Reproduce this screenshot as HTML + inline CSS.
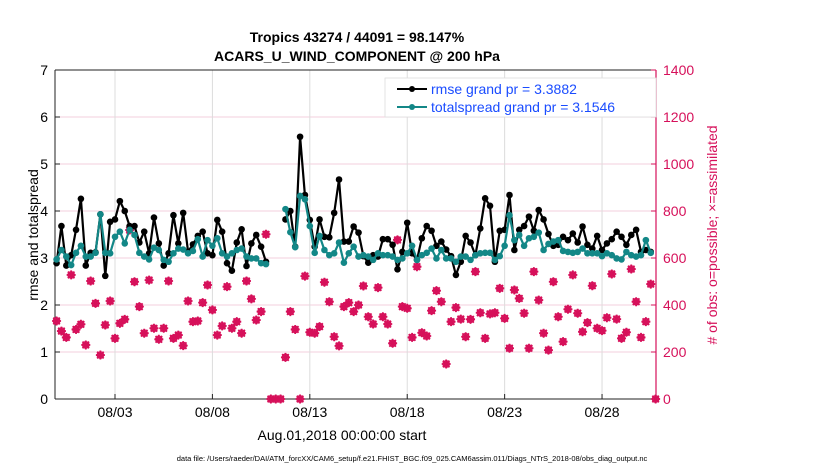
<!DOCTYPE html>
<html><head><meta charset="utf-8"><style>
body{margin:0;background:#fff;}
svg{display:block;font-family:"Liberation Sans",sans-serif;}
</style></head><body>
<svg id="chart" width="830" height="470" viewBox="0 0 830 470" xmlns="http://www.w3.org/2000/svg">
<g id="grid"></g>
<g id="axes"></g>
<g id="obs"></g>
<g id="lines"></g>
<text x="357" y="42" text-anchor="middle" font-size="14" font-weight="bold">Tropics 43274 / 44091 = 98.147%</text>
<text x="357" y="61" text-anchor="middle" font-size="14" font-weight="bold">ACARS_U_WIND_COMPONENT @ 200 hPa</text>
<text transform="translate(38,235) rotate(-90)" text-anchor="middle" font-size="14">rmse and totalspread</text>
<text transform="translate(717,235) rotate(-90)" text-anchor="middle" font-size="14" fill="#d6105a"># of obs: o=possible; ×=assimilated</text>
<text x="342" y="440" text-anchor="middle" font-size="14">Aug.01,2018 00:00:00 start</text>
<text x="412" y="461" text-anchor="middle" font-size="7.5">data file: /Users/raeder/DAI/ATM_forcXX/CAM6_setup/f.e21.FHIST_BGC.f09_025.CAM6assim.011/Diags_NTrS_2018-08/obs_diag_output.nc</text>
<g>
<rect x="385" y="78" width="271" height="39" fill="#fff" stroke="#ddd" stroke-width="0.8"/>
<g>
<line x1="397" y1="89" x2="427" y2="89" stroke="#000" stroke-width="2"/><circle cx="412" cy="89" r="3" fill="#000"/>
<text x="431" y="94" font-size="14" fill="#1a4cff">rmse grand pr = 3.3882</text></g>
<g>
<line x1="397" y1="107" x2="427" y2="107" stroke="#138787" stroke-width="2"/><circle cx="412" cy="107" r="3" fill="#138787"/>
<text x="431" y="112" font-size="14" fill="#1a4cff">totalspread grand pr = 3.1546</text></g>
</g>
</svg>
<script>
const rmse=[2.89,3.68,2.84,3.06,3.6,4.26,2.84,3.11,3.12,3.93,2.62,3.77,3.82,4.21,4.0,3.68,3.68,3.33,3.56,3.1,3.86,3.31,2.84,3.1,3.91,3.31,3.96,3.13,3.29,3.47,3.56,3.1,
3.06,3.81,3.56,2.89,2.73,3.33,3.61,2.83,3.31,3.49,3.24,2.92,null,null,null,
3.82,4.0,3.24,5.58,4.34,3.81,3.24,3.82,3.45,3.44,3.96,4.67,3.35,3.35,3.67,3.54,3.04,
2.90,3.06,3.03,3.40,3.40,3.28,2.76,3.13,3.75,3.10,2.96,3.42,3.68,3.58,3.26,3.35,3.18,3.04,2.64,2.92,3.47,3.33,3.06,3.63,4.27,4.11,2.92,3.58,3.6,4.34,3.17,
3.6,3.68,3.88,3.58,4.02,3.82,3.51,3.26,3.28,3.45,3.38,3.52,3.33,3.67,3.28,3.2,3.47,3.17,3.31,3.40,3.56,3.45,3.28,3.49,3.6,3.13,3.17,3.13,null];
const spread=[2.97,3.17,3.03,2.85,3.11,3.26,3.03,3.03,3.11,3.93,3.11,3.1,3.45,3.56,3.31,3.6,3.49,3.11,3.03,2.97,3.22,3.17,2.96,2.92,3.1,3.2,3.18,3.1,3.15,3.4,3.03,3.38,
3.26,3.42,3.1,3.03,3.1,3.17,3.2,3.03,2.99,2.99,2.89,2.87,null,null,null,
4.04,3.55,3.23,4.32,4.25,3.68,3.11,3.47,3.17,3.06,3.1,3.33,2.9,3.1,3.24,3.03,3.06,
3.03,2.96,3.1,3.06,3.06,3.03,2.96,2.99,3.10,3.26,2.96,3.06,3.11,3.2,2.99,3.17,2.99,2.99,2.92,3.03,3.03,2.96,3.06,3.1,3.11,3.11,2.96,3.04,3.26,3.91,3.38,
3.49,3.26,3.42,3.45,3.54,3.17,3.3,3.35,3.38,3.15,3.13,3.11,3.13,3.2,3.1,3.1,3.1,3.04,3.1,3.06,2.99,2.97,3.13,3.06,3.03,3.06,3.38,3.11,null];
const obsCount=[332,289,262,528,296,318,230,502,407,187,315,417,258,322,339,719,499,393,280,506,301,254,301,502,258,272,227,417,329,332,410,485,
379,272,311,478,301,329,280,502,426,336,372,701,0,0,0,
177,372,296,0,523,284,280,308,497,414,265,226,393,410,372,400,481,
350,319,474,350,319,237,677,393,386,262,563,282,268,376,461,414,149,329,389,340,265,339,542,367,258,362,367,471,343,216,464,
428,365,216,542,421,280,208,499,350,244,382,528,365,286,325,482,301,291,346,532,340,258,284,553,414,262,329,489,0];
const xTickLabels=["08/03","08/08","08/13","08/18","08/23","08/28"];
const xTickDays=[2,7,12,17,22,27];
const yLeftTicks=[0,1,2,3,4,5,6,7];
const yRightTicks=[0,200,400,600,800,1000,1200,1400];
const startDay=-1, stepDays=0.25;

const NS="http://www.w3.org/2000/svg";
const L=55,R=656,T=70,B=399;
const dayMin=-1.08, dayMax=29.77;
const xs=d=>L+(d-dayMin)/(dayMax-dayMin)*(R-L);
const yl=v=>B-v/7*(B-T);
const yr=v=>B-v/1400*(B-T);
function mk(tag,attrs,parent){const e=document.createElementNS(NS,tag);for(const k in attrs)e.setAttribute(k,attrs[k]);parent.appendChild(e);return e;}
const grid=document.getElementById('grid'),axes=document.getElementById('axes'),obsG=document.getElementById('obs'),linesG=document.getElementById('lines');
const PINK="#d6105a",TEAL="#138787";
yRightTicks.forEach(v=>{if(v>0&&v<1400){const g=mk('line',{x1:L,x2:R,y1:yr(v),y2:yr(v),stroke:"#f3cfdc","stroke-width":1},grid);}});
xTickDays.forEach((d,i)=>{const g=mk('line',{x1:xs(d),x2:xs(d),y1:T,y2:B,stroke:"#dcdcdc","stroke-width":1},grid);
const t=mk('line',{x1:xs(d),x2:xs(d),y1:B,y2:B-5,stroke:"#222"},axes);
const lb=mk('text',{x:xs(d),y:B+18,"text-anchor":"middle","font-size":14},axes);lb.textContent=xTickLabels[i];});
let a=mk('line',{x1:L,x2:L,y1:T,y2:B,stroke:"#222","stroke-width":1},axes);
a=mk('line',{x1:L,x2:R,y1:B,y2:B,stroke:"#222","stroke-width":1},axes);
a=mk('line',{x1:L,x2:R,y1:T,y2:T,stroke:"#222","stroke-width":1},axes);
a=mk('line',{x1:R,x2:R,y1:T,y2:B,stroke:PINK,"stroke-width":1.2},axes);
yLeftTicks.forEach(v=>{const t=mk('line',{x1:L,x2:L+5,y1:yl(v),y2:yl(v),stroke:"#222"},axes);
const lb=mk('text',{x:L-7,y:yl(v)+5,"text-anchor":"end","font-size":14},axes);lb.textContent=v;});
yRightTicks.forEach(v=>{const t=mk('line',{x1:R-5,x2:R,y1:yr(v),y2:yr(v),stroke:PINK},axes);
const lb=mk('text',{x:R+7,y:yr(v)+5,"font-size":14,fill:PINK},axes);lb.textContent=v;});
obsCount.forEach((v,i)=>{if(v==null)return;const cx=xs(startDay+i*stepDays),cy=yr(v);
const g=mk('g',{},obsG);
mk('circle',{cx:cx,cy:cy,r:3.2,fill:"none",stroke:PINK,"stroke-width":1.3},g);
const p=`M${cx-4.5},${cy}H${cx+4.5}M${cx},${cy-4.5}V${cy+4.5}M${cx-3.3},${cy-3.3}L${cx+3.3},${cy+3.3}M${cx-3.3},${cy+3.3}L${cx+3.3},${cy-3.3}`;
mk('path',{d:p,stroke:PINK,"stroke-width":1.8},g);});
function series(vals,color,name){const g=mk('g',{},linesG);
let d="",pen=false;vals.forEach((v,i)=>{if(v==null){pen=false;return;}const x=xs(startDay+i*stepDays),y=yl(v);d+=(pen?"L":"M")+x.toFixed(1)+","+y.toFixed(1);pen=true;});
const pl=mk('path',{d:d,fill:"none",stroke:color,"stroke-width":2.2,"stroke-linejoin":"round"},g);
vals.forEach((v,i)=>{if(v==null)return;const c=mk('circle',{cx:xs(startDay+i*stepDays),cy:yl(v),r:3.3,fill:color},g);});}
series(rmse,"#000","rmse-series");
series(spread,TEAL,"totalspread-series");
</script>
</body></html>
